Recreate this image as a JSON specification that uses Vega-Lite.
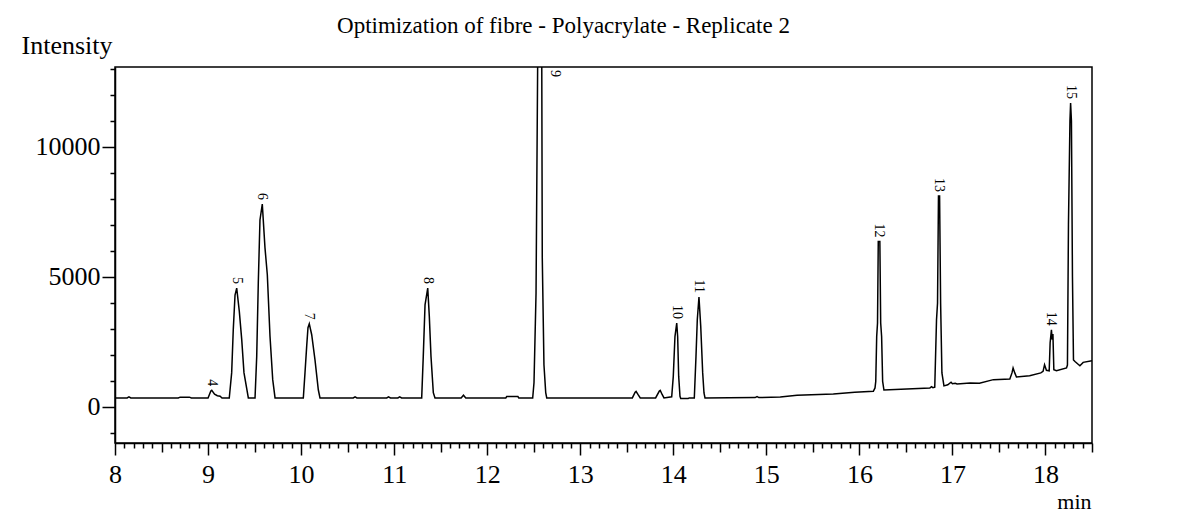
{
  "$schema": "https://vega.github.io/schema/vega-lite/v6.json",
  "width": 977,
  "height": 376,
  "autosize": {"type": "none"},
  "padding": {"left": 115, "top": 67, "right": 95, "bottom": 70},
  "background": "white",
  "title": {
    "text": "Optimization of fibre - Polyacrylate - Replicate 2",
    "font": "Liberation Serif",
    "fontSize": 23,
    "fontWeight": "normal",
    "color": "black",
    "anchor": "middle",
    "dx": -40,
    "offset": -6
  },
  "config": {
    "view": {"stroke": "black", "strokeWidth": 1.5},
    "axis": {
      "grid": false,
      "domainColor": "black",
      "domainWidth": 1.5,
      "tickColor": "black",
      "tickWidth": 1.5,
      "labelColor": "black",
      "labelFont": "Liberation Serif",
      "labelFontSize": 26,
      "labelOverlap": false,
      "labelFlush": false,
      "titleFont": "Liberation Serif",
      "titleFontWeight": "normal",
      "titleColor": "black"
    }
  },
  "datasets": {
    "trace": [
      {"time": 8.00, "intensity": 335},
      {"time": 8.13, "intensity": 335},
      {"time": 8.15, "intensity": 375},
      {"time": 8.17, "intensity": 335},
      {"time": 8.68, "intensity": 335},
      {"time": 8.70, "intensity": 365},
      {"time": 8.80, "intensity": 365},
      {"time": 8.82, "intensity": 335},
      {"time": 9.00, "intensity": 335},
      {"time": 9.03, "intensity": 600},
      {"time": 9.04, "intensity": 627},
      {"time": 9.07, "intensity": 480},
      {"time": 9.10, "intensity": 420},
      {"time": 9.13, "intensity": 400},
      {"time": 9.15, "intensity": 335},
      {"time": 9.228, "intensity": 335},
      {"time": 9.254, "intensity": 1310},
      {"time": 9.271, "intensity": 2960},
      {"time": 9.290, "intensity": 4300},
      {"time": 9.308, "intensity": 4565},
      {"time": 9.336, "intensity": 3670},
      {"time": 9.362, "intensity": 2580},
      {"time": 9.386, "intensity": 1310},
      {"time": 9.433, "intensity": 335},
      {"time": 9.505, "intensity": 335},
      {"time": 9.523, "intensity": 1935},
      {"time": 9.540, "intensity": 4760},
      {"time": 9.558, "intensity": 7190},
      {"time": 9.583, "intensity": 7800},
      {"time": 9.612, "intensity": 6115},
      {"time": 9.637, "intensity": 5080},
      {"time": 9.666, "intensity": 2700},
      {"time": 9.695, "intensity": 1040},
      {"time": 9.720, "intensity": 335},
      {"time": 10.024, "intensity": 335},
      {"time": 10.042, "intensity": 1310},
      {"time": 10.060, "intensity": 2320},
      {"time": 10.074, "intensity": 3040},
      {"time": 10.088, "intensity": 3190},
      {"time": 10.114, "intensity": 2770},
      {"time": 10.149, "intensity": 1810},
      {"time": 10.185, "intensity": 650},
      {"time": 10.203, "intensity": 335},
      {"time": 10.56, "intensity": 335},
      {"time": 10.58, "intensity": 380},
      {"time": 10.60, "intensity": 335},
      {"time": 10.92, "intensity": 335},
      {"time": 10.94, "intensity": 380},
      {"time": 10.96, "intensity": 335},
      {"time": 11.04, "intensity": 335},
      {"time": 11.06, "intensity": 380},
      {"time": 11.08, "intensity": 335},
      {"time": 11.296, "intensity": 335},
      {"time": 11.313, "intensity": 1935},
      {"time": 11.332, "intensity": 3920},
      {"time": 11.361, "intensity": 4565},
      {"time": 11.378, "intensity": 3475},
      {"time": 11.396, "intensity": 1935},
      {"time": 11.421, "intensity": 540},
      {"time": 11.439, "intensity": 335},
      {"time": 11.72, "intensity": 335},
      {"time": 11.745, "intensity": 440},
      {"time": 11.77, "intensity": 335},
      {"time": 12.20, "intensity": 335},
      {"time": 12.21, "intensity": 390},
      {"time": 12.33, "intensity": 390},
      {"time": 12.34, "intensity": 335},
      {"time": 12.489, "intensity": 335},
      {"time": 12.503, "intensity": 920},
      {"time": 12.525, "intensity": 4380},
      {"time": 12.543, "intensity": 13500},
      {"time": 12.562, "intensity": 22000},
      {"time": 12.586, "intensity": 14000},
      {"time": 12.592, "intensity": 5730},
      {"time": 12.610, "intensity": 1615},
      {"time": 12.629, "intensity": 540},
      {"time": 12.640, "intensity": 335},
      {"time": 13.56, "intensity": 335},
      {"time": 13.59, "intensity": 560},
      {"time": 13.60, "intensity": 590},
      {"time": 13.62, "intensity": 470},
      {"time": 13.645, "intensity": 335},
      {"time": 13.81, "intensity": 335},
      {"time": 13.85, "intensity": 600},
      {"time": 13.86, "intensity": 627},
      {"time": 13.88, "intensity": 470},
      {"time": 13.90, "intensity": 335},
      {"time": 13.983, "intensity": 380},
      {"time": 14.000, "intensity": 1165},
      {"time": 14.018, "intensity": 2700},
      {"time": 14.037, "intensity": 3220},
      {"time": 14.047, "intensity": 2700},
      {"time": 14.058, "intensity": 1165},
      {"time": 14.072, "intensity": 400},
      {"time": 14.08, "intensity": 310},
      {"time": 14.16, "intensity": 310},
      {"time": 14.17, "intensity": 335},
      {"time": 14.226, "intensity": 335},
      {"time": 14.244, "intensity": 1935},
      {"time": 14.258, "intensity": 3345},
      {"time": 14.276, "intensity": 4220},
      {"time": 14.295, "intensity": 3090},
      {"time": 14.316, "intensity": 1300},
      {"time": 14.330, "intensity": 525},
      {"time": 14.341, "intensity": 335},
      {"time": 14.60, "intensity": 340},
      {"time": 14.88, "intensity": 350},
      {"time": 14.90, "intensity": 390},
      {"time": 14.92, "intensity": 350},
      {"time": 15.15, "intensity": 373},
      {"time": 15.33, "intensity": 435},
      {"time": 15.72, "intensity": 488},
      {"time": 15.95, "intensity": 550},
      {"time": 16.15, "intensity": 590},
      {"time": 16.168, "intensity": 720},
      {"time": 16.176, "intensity": 975},
      {"time": 16.186, "intensity": 2700},
      {"time": 16.195, "intensity": 3220},
      {"time": 16.203, "intensity": 6360},
      {"time": 16.220, "intensity": 6360},
      {"time": 16.229, "intensity": 3220},
      {"time": 16.239, "intensity": 2700},
      {"time": 16.250, "intensity": 975},
      {"time": 16.264, "intensity": 640},
      {"time": 16.51, "intensity": 680},
      {"time": 16.757, "intensity": 718},
      {"time": 16.775, "intensity": 770},
      {"time": 16.79, "intensity": 730},
      {"time": 16.810, "intensity": 750},
      {"time": 16.829, "intensity": 3345},
      {"time": 16.840, "intensity": 3990},
      {"time": 16.850, "intensity": 8115},
      {"time": 16.862, "intensity": 8115},
      {"time": 16.873, "intensity": 3990},
      {"time": 16.887, "intensity": 1300},
      {"time": 16.909, "intensity": 800},
      {"time": 16.95, "intensity": 840},
      {"time": 16.985, "intensity": 940},
      {"time": 17.00, "intensity": 880},
      {"time": 17.03, "intensity": 900},
      {"time": 17.05, "intensity": 870},
      {"time": 17.19, "intensity": 910},
      {"time": 17.29, "intensity": 900},
      {"time": 17.44, "intensity": 1040},
      {"time": 17.617, "intensity": 1065},
      {"time": 17.64, "intensity": 1300},
      {"time": 17.652, "intensity": 1490},
      {"time": 17.67, "intensity": 1300},
      {"time": 17.688, "intensity": 1140},
      {"time": 17.83, "intensity": 1190},
      {"time": 17.95, "intensity": 1300},
      {"time": 17.974, "intensity": 1360},
      {"time": 17.99, "intensity": 1615},
      {"time": 18.01, "intensity": 1400},
      {"time": 18.04, "intensity": 1380},
      {"time": 18.05, "intensity": 2460},
      {"time": 18.064, "intensity": 2960},
      {"time": 18.072, "intensity": 2580},
      {"time": 18.08, "intensity": 2800},
      {"time": 18.09, "intensity": 1420},
      {"time": 18.118, "intensity": 1385},
      {"time": 18.226, "intensity": 1490},
      {"time": 18.236, "intensity": 1600},
      {"time": 18.247, "intensity": 7000},
      {"time": 18.263, "intensity": 11000},
      {"time": 18.270, "intensity": 11690},
      {"time": 18.279, "intensity": 11000},
      {"time": 18.290, "intensity": 5000},
      {"time": 18.301, "intensity": 1800},
      {"time": 18.317, "intensity": 1740},
      {"time": 18.370, "intensity": 1575},
      {"time": 18.405, "intensity": 1705},
      {"time": 18.50, "intensity": 1770}
    ],
    "peaks": [
      {"peak": "4", "time": 9.04, "intensity": 627},
      {"peak": "5", "time": 9.308, "intensity": 4565},
      {"peak": "6", "time": 9.583, "intensity": 7800},
      {"peak": "7", "time": 10.088, "intensity": 3190},
      {"peak": "8", "time": 11.361, "intensity": 4565},
      {"peak": "9", "time": 12.73, "intensity": 12540},
      {"peak": "10", "time": 14.037, "intensity": 3220},
      {"peak": "11", "time": 14.276, "intensity": 4220},
      {"peak": "12", "time": 16.212, "intensity": 6360},
      {"peak": "13", "time": 16.856, "intensity": 8115},
      {"peak": "14", "time": 18.064, "intensity": 2960},
      {"peak": "15", "time": 18.27, "intensity": 11690}
    ]
  },
  "layer": [
    {
      "data": {"name": "trace"},
      "mark": {"type": "line", "color": "black", "strokeWidth": 1.5, "clip": true, "interpolate": "linear"},
      "encoding": {
        "x": {
          "field": "time",
          "type": "quantitative",
          "scale": {"domain": [8, 18.5], "nice": false, "zero": false},
          "axis": {
            "values": [8,8.1,8.2,8.3,8.4,8.5,8.6,8.7,8.8,8.9,9,9.1,9.2,9.3,9.4,9.5,9.6,9.7,9.8,9.9,10,10.1,10.2,10.3,10.4,10.5,10.6,10.7,10.8,10.9,11,11.1,11.2,11.3,11.4,11.5,11.6,11.7,11.8,11.9,12,12.1,12.2,12.3,12.4,12.5,12.6,12.7,12.8,12.9,13,13.1,13.2,13.3,13.4,13.5,13.6,13.7,13.8,13.9,14,14.1,14.2,14.3,14.4,14.5,14.6,14.7,14.8,14.9,15,15.1,15.2,15.3,15.4,15.5,15.6,15.7,15.8,15.9,16,16.1,16.2,16.3,16.4,16.5,16.6,16.7,16.8,16.9,17,17.1,17.2,17.3,17.4,17.5,17.6,17.7,17.8,17.9,18,18.1,18.2,18.3,18.4,18.5],
            "tickCount": 1000,
            "labelOverlap": false,
            "labelFlush": false,
            "labelExpr": "abs(datum.value - round(datum.value)) < 0.001 ? format(round(datum.value), 'd') : ''",
            "tickSize": {
              "condition": [
                {"test": "abs(datum.value - round(datum.value)) < 0.001", "value": 12},
                {"test": "abs(datum.value * 2 - round(datum.value * 2)) < 0.001", "value": 9}
              ],
              "value": 5
            },
            "labelPadding": 6,
            "title": "min",
            "titleFontSize": 22,
            "titleAlign": "right",
            "titleBaseline": "alphabetic",
            "titleX": 976,
            "titleY": 65
          }
        },
        "y": {
          "field": "intensity",
          "type": "quantitative",
          "scale": {"domain": [-1400, 13080], "nice": false, "zero": false},
          "axis": {
            "values": [-1000,0,1000,2000,3000,4000,5000,6000,7000,8000,9000,10000,11000,12000,13000],
            "tickCount": 1000,
            "labelOverlap": false,
            "labelFlush": false,
            "labelExpr": "datum.value % 5000 === 0 ? format(datum.value, 'd') : ''",
            "tickSize": {"condition": {"test": "datum.value % 5000 === 0", "value": 13}, "value": 5},
            "labelPadding": 2,
            "title": "Intensity",
            "titleFontSize": 26,
            "titleAngle": 0,
            "titleAlign": "right",
            "titleBaseline": "alphabetic",
            "titleX": -3,
            "titleY": -14
          }
        }
      }
    },
    {
      "data": {"name": "peaks"},
      "mark": {"type": "text", "angle": 90, "align": "right", "baseline": "middle", "yOffset": -4, "font": "Liberation Serif", "fontSize": 14, "color": "black"},
      "encoding": {
        "x": {"field": "time", "type": "quantitative"},
        "y": {"field": "intensity", "type": "quantitative"},
        "text": {"field": "peak"}
      }
    }
  ]
}
